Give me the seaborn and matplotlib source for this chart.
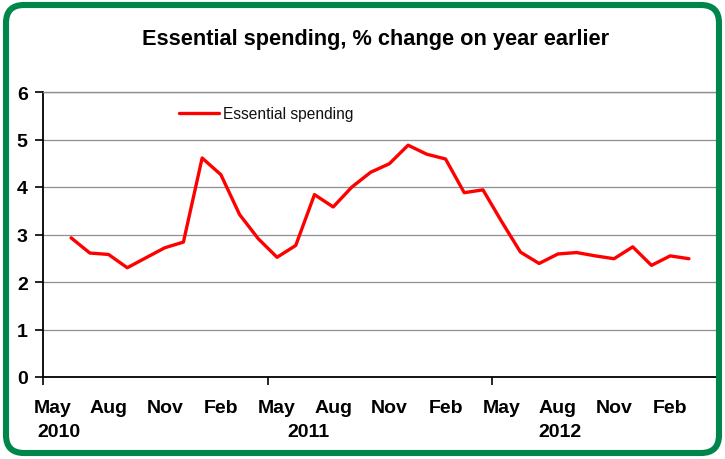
import numpy as np
import pandas as pd
import matplotlib
matplotlib.use("Agg")
import matplotlib.pyplot as plt
import matplotlib.transforms as mtransforms
from matplotlib.patches import FancyBboxPatch
import seaborn as sns

# ---- data ----
title = "Essential spending, % change on year earlier"
series_name = "Essential spending"
month_ticks = ["May", "Aug", "Nov", "Feb", "May", "Aug", "Nov", "Feb", "May", "Aug", "Nov", "Feb"]
year_labels = ["2010", "2011", "2012"]
values = [2.93, 2.61, 2.58, 2.30, 2.51, 2.72, 2.84, 4.61, 4.26, 3.42, 2.91, 2.52,
          2.77, 3.84, 3.58, 4.00, 4.31, 4.49, 4.88, 4.69, 4.59, 3.88, 3.94, 3.27,
          2.63, 2.39, 2.59, 2.62, 2.55, 2.49, 2.74, 2.35, 2.55, 2.49]
y_ticks = [0, 1, 2, 3, 4, 5, 6]

n_categories = 36
df = pd.DataFrame({"pos": np.arange(1, 1 + len(values)), "value": values})

sns.set_theme(style="white")
plt.rcParams["font.family"] = ["Liberation Sans", "DejaVu Sans"]

W, H = 725, 460
fig = plt.figure(figsize=(W / 100, H / 100), dpi=100)
fig.patch.set_facecolor("white")

# green rounded frame (pixel coordinates)
frame = FancyBboxPatch((6, 6), W - 12, H - 12,
                       boxstyle="round,pad=0,rounding_size=18",
                       transform=mtransforms.IdentityTransform(),
                       facecolor="none", edgecolor="#00854A", linewidth=4.4,
                       zorder=5)
fig.patches.append(frame)

left, right, top, bottom = 43, 717, 93, 378
ax = fig.add_axes([left / W, (H - bottom) / H, (right - left) / W, (bottom - top) / H])
ax.set_facecolor("white")

sns.lineplot(data=df, x="pos", y="value", ax=ax, color="#FF0000", linewidth=2.4,
             label=series_name, solid_joinstyle="round")

ax.set_xlim(-0.5, n_categories - 0.5)
ax.set_ylim(0, 6)
ax.set_xlabel("")
ax.set_ylabel("")

# x axis: major ticks every 12 categories, month labels every 3
ax.set_xticks([-0.5, 11.5, 23.5, 35.5])
ax.set_xticklabels([])
ax.set_xticks(np.arange(0, n_categories, 3), minor=True)
ax.set_xticklabels(month_ticks, minor=True, fontsize=14, fontweight="bold")
ax.tick_params(axis="x", which="major", direction="out", length=6, width=1.2,
               color="black", bottom=True)
ax.tick_params(axis="x", which="minor", length=0, pad=16, labelcolor="black")

year_x = [0.35, 13.7, 27.1]
trans = mtransforms.blended_transform_factory(ax.transData, ax.transAxes)
for xp, lab in zip(year_x, year_labels):
    ax.text(xp, -(437 - bottom) / (bottom - top), lab, transform=trans, ha="center",
            va="baseline", fontsize=14, fontweight="bold", color="black")

ax.set_yticks(y_ticks)
ax.set_yticklabels([str(t) for t in y_ticks], fontsize=14, fontweight="bold")
ax.tick_params(axis="y", direction="out", length=6, width=1.2, color="black",
               left=True, pad=5, labelcolor="black")

ax.yaxis.grid(True, color="#8f8f8f", linewidth=0.9)
ax.xaxis.grid(False)
ax.set_axisbelow(True)

for s in ["left", "bottom"]:
    ax.spines[s].set_color("black")
    ax.spines[s].set_linewidth(1.3)
for s in ["top", "right"]:
    ax.spines[s].set_color("#8f8f8f")
    ax.spines[s].set_linewidth(1.0)

leg = ax.legend(loc="center left", bbox_to_anchor=((179 - left) / (right - left), (bottom - 115) / (bottom - top)),
                frameon=False, fontsize=11.2, handlelength=2.55, handletextpad=0.3,
                borderpad=0, borderaxespad=0)
for t in leg.get_texts():
    t.set_color("#111111")

fig.text(376 / W, 1 - 45 / H, title, ha="center", va="baseline", fontsize=15.7,
         fontweight="bold", color="black")

fig.savefig("out.png", dpi=100, facecolor="white")
